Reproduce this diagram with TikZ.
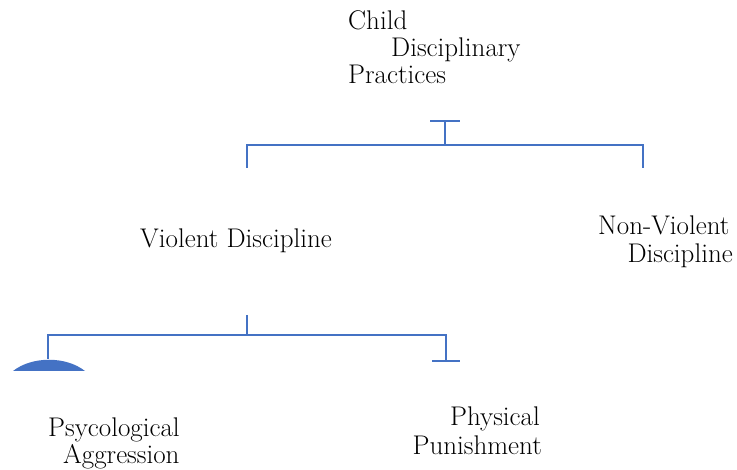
\documentclass[tikz,border=0pt]{standalone}
\usepackage{fontspec}
\usetikzlibrary{positioning}
\definecolor{linkblue}{HTML}{4472C4}

\begin{document}
\begin{tikzpicture}[x=1pt,y=-1pt,
    lbl/.style={font=\rmfamily\fontsize{27}{28}\selectfont,inner sep=0pt,anchor=base west},
    link/.style={draw=linkblue,line width=1.6pt},
    tbar/.style={draw=linkblue,line width=1.4pt}]
  \useasboundingbox (0,0) rectangle (737,470);
  % texts
  \node[lbl] (cdpA) at (348,30) {Child};
  \node[lbl] (cdpB) at (391,57) {Disciplinary};
  \node[lbl] (cdpC) at (348,84) {Practices};
  \node[lbl] (vd) at (140,248) {Violent Discipline};
  \node[lbl] (nvdA) at (598,235) {Non-Violent};
  \node[lbl,anchor=base east] (nvdB) at (733,263) {Discipline};
  \node[lbl] (psyA) at (48,437) {Psycological};
  \node[lbl] (psyB) at (63,464) {Aggression};
  \node[lbl,anchor=base east] (phyA) at (540,426) {Physical};
  \node[lbl,anchor=base east] (phyB) at (542,454) {Punishment};
  % branch points
  \coordinate (cdpL) at (430,121);
  \coordinate (cdpR) at (460,121);
  \coordinate (cdpT) at (445,121);
  \coordinate (cdpF) at (445,145);
  \coordinate (vdT) at (247,168);
  \coordinate (nvdT) at (643,168);
  \coordinate (vdS) at (247,315);
  \coordinate (vdF) at (247,335);
  \coordinate (psyT) at (48,359);
  \coordinate (phyT) at (446,361);
  \coordinate (phyL) at (432,361);
  \coordinate (phyR) at (460,361);
  % upper bracket
  \draw[tbar] (cdpL) -- (cdpR);
  \draw[link] (cdpT) -- (cdpF);
  \draw[link] (vdT) |- (cdpF) -| (nvdT);
  % lower bracket
  \draw[link] (vdS) -- (vdF);
  \draw[link] (psyT) |- (vdF) -| (phyT);
  \draw[tbar] (phyL) -- (phyR);
  \fill[linkblue] (13,371) .. controls (32,356) and (66,356) .. (85,371) -- cycle;
\end{tikzpicture}
\end{document}
